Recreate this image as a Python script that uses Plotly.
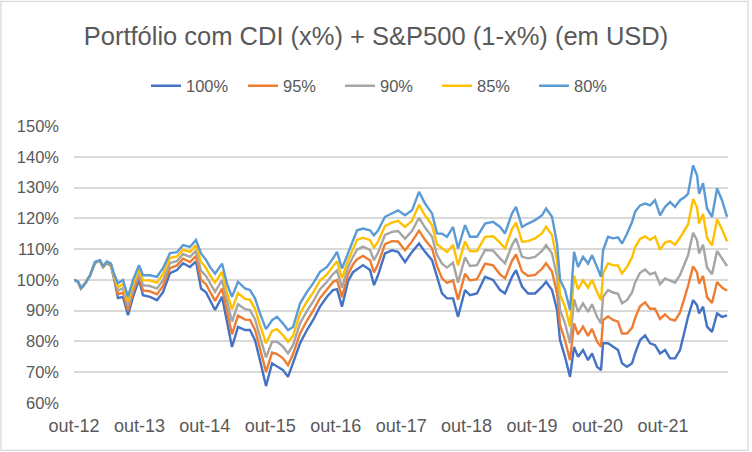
import plotly.graph_objects as go
import pandas as pd

# sample times (decimal years)
t_years = [
    2012.750, 2012.811, 2012.857, 2012.918, 2012.995, 2013.071, 2013.147, 2013.193, 2013.254, 2013.315,
    2013.361, 2013.422, 2013.499, 2013.575, 2013.652, 2013.743, 2013.804, 2013.911, 2014.018, 2014.110,
    2014.217, 2014.324, 2014.416, 2014.523, 2014.614, 2014.691, 2014.767, 2014.828, 2014.905, 2015.012,
    2015.088, 2015.164, 2015.256, 2015.363, 2015.439, 2015.516, 2015.592, 2015.684, 2015.776, 2015.852,
    2015.944, 2016.020, 2016.097, 2016.204, 2016.310, 2016.402, 2016.509,
    2016.616, 2016.708, 2016.769, 2016.845, 2016.937, 2017.013, 2017.075, 2017.166, 2017.273, 2017.334,
    2017.395, 2017.502, 2017.609, 2017.701, 2017.808, 2017.915, 2018.022, 2018.114, 2018.221, 2018.297,
    2018.373, 2018.450, 2018.542, 2018.618, 2018.725, 2018.801, 2018.908, 2019.031, 2019.153, 2019.260,
    2019.336, 2019.443, 2019.504, 2019.596, 2019.688, 2019.795, 2019.902, 2019.963, 2020.054, 2020.131,
    2020.177, 2020.253, 2020.329, 2020.391, 2020.452, 2020.528, 2020.605, 2020.666, 2020.742, 2020.803,
    2020.834, 2020.910, 2020.987, 2021.063, 2021.124, 2021.200, 2021.277, 2021.323, 2021.399, 2021.476,
    2021.552, 2021.628, 2021.705, 2021.781, 2021.858, 2021.934, 2022.010, 2022.087, 2022.133, 2022.209,
    2022.270, 2022.301, 2022.362, 2022.423, 2022.499, 2022.576, 2022.652, 2022.729,
]

s100 = [
    100, 99.3, 97.2, 98.7, 101.4, 105.6, 106.1, 104.1, 105.4, 104.6,
    100.5, 94.1, 94.5, 88.5, 94.5, 100, 95, 94.5, 93.4, 96,
    102.2, 103.2, 105.4, 104.2, 106, 97.2, 96, 93.4, 90.2, 94.5,
    86.9, 78.2, 84.7, 83.7, 83.7, 80.4, 73.9, 65.5, 72.9, 71.8,
    70.7, 68.5, 72.9, 79.4, 83.7, 86.9, 91.3,
    94.5, 96.7, 97, 91.3, 99.5, 102.5, 103.5, 104.8, 103.2, 98.3,
    101.5, 108.6, 109.6, 109.1, 105.8, 109.1, 111.8, 109.1, 106.4, 101,
    95.6, 94, 94, 88, 96.7, 95, 95.6, 101, 100, 96.7,
    95.6, 101, 103.2, 97.8, 95.6, 95.6, 97.8, 99.4, 96.7, 90.2,
    80.4, 75, 68.5, 78.2, 75, 77.2, 73.9, 76.1, 71.8, 70.7,
    79.4, 79.4, 78.2, 77.2, 72.9, 71.8, 72.9, 76.1, 80.4, 82,
    79.4, 78.8, 76.1, 77.2, 74.5, 74.5, 77.2, 83.7, 88, 93.4,
    91.8, 89.1, 91.3, 84.8, 83.1, 89.1, 88, 88.5,
]

s95 = [
    100, 99.3, 97.2, 98.7, 101.4, 105.6, 106.2, 104.2, 105.5, 104.8,
    100.9, 95.3, 95.9, 90, 95.9, 101.2, 96.6, 96.3, 95.3, 98,
    103.8, 104.7, 106.9, 105.8, 107.8, 100, 98.6, 96.1, 93.2, 97.2,
    89.9, 82.3, 88.4, 87.1, 87, 83.8, 77.7, 70.1, 76.4, 75.9,
    74.5, 72.3, 75.9, 82.6, 86.8, 89.9, 94.1,
    96.9, 99.3, 100, 94.4, 101.8, 105, 106.7, 107.8, 106.4, 102.4,
    105.1, 111.6, 112.6, 112.5, 109.6, 112.5, 116, 113, 110.2, 104.5,
    100.5, 99, 99.8, 93.6, 102, 99.8, 100.2, 105.3, 104.7, 101.8,
    100.5, 106.2, 108.3, 102.7, 101.3, 101.6, 103.6, 105.4, 102.7, 95.6,
    85.3, 80.4, 73.9, 85.9, 82.3, 84.8, 81.8, 84.1, 79.9, 78.3,
    87, 88.1, 87, 86.4, 82.6, 82.6, 84.4, 87.6, 91.4, 92.7,
    90.6, 90.6, 87.3, 88.8, 87.2, 86.8, 89.4, 94.5, 98, 104.4,
    102.4, 98.8, 101.3, 94.4, 92.5, 99.3, 97.5, 96.5,
]

s90 = [
    100, 99.4, 97.2, 98.8, 101.4, 105.7, 106.2, 104.3, 105.7, 105,
    101.2, 96.5, 97.3, 91.5, 97.3, 102.4, 98.3, 98, 97.2, 99.9,
    105.5, 106.1, 108.4, 107.5, 109.5, 102.9, 101.3, 98.8, 96.1, 99.9,
    92.9, 86.4, 92.1, 90.5, 90.2, 87.2, 81.5, 74.8, 79.9, 79.9,
    78.3, 76.1, 78.8, 85.9, 89.9, 92.9, 97,
    99.4, 101.9, 103.1, 97.5, 104.1, 107.5, 109.8, 110.8, 109.7, 106.4,
    108.8, 114.6, 115.6, 115.9, 113.4, 115.9, 120.2, 117, 114, 108.1,
    105.3, 104, 105.6, 99.1, 107.3, 104.5, 104.8, 109.7, 109.5, 107,
    105.4, 111.3, 113.5, 107.5, 107, 107.5, 109.4, 111.3, 108.6, 101,
    90.2, 85.9, 79.4, 93.7, 89.6, 92.4, 89.6, 92.1, 88, 85.9,
    94.5, 96.7, 95.9, 95.5, 92.4, 93.4, 95.9, 99.1, 102.3, 103.4,
    101.8, 102.4, 98.6, 100.5, 99.9, 99.1, 101.6, 105.4, 108, 115.3,
    112.9, 108.6, 111.4, 104, 101.8, 109.4, 107, 104.5,
]

s85 = [
    100, 99.5, 97.3, 98.8, 101.5, 105.8, 106.3, 104.4, 105.9, 105.1,
    101.6, 97.7, 98.6, 93, 98.6, 103.6, 99.9, 99.8, 99.1, 101.9,
    107.1, 107.6, 109.8, 109.1, 111.3, 105.8, 103.9, 101.5, 99.1, 102.6,
    95.8, 90.4, 95.7, 93.8, 93.5, 90.6, 85.3, 79.4, 83.4, 84,
    82, 79.9, 81.8, 89.1, 93, 95.8, 99.8,
    101.8, 104.4, 106.1, 100.6, 106.3, 110, 113, 113.7, 112.9, 110.5,
    112.4, 117.5, 118.6, 119.2, 117.2, 119.2, 124.4, 120.9, 117.8, 111.6,
    110.2, 109, 111.4, 104.7, 112.5, 109.3, 109.4, 114, 114.2, 112.1,
    110.2, 116.5, 118.6, 112.4, 112.6, 113.5, 115.2, 117.3, 114.6, 106.4,
    95.1, 91.3, 84.8, 101.4, 96.9, 99.9, 97.5, 100, 96.1, 93.4,
    102.1, 105.4, 104.7, 104.7, 102.1, 104.2, 107.3, 110.6, 113.3, 114.1,
    113, 114.1, 109.8, 112.1, 112.6, 111.4, 113.7, 116.2, 118, 126.3,
    123.5, 118.3, 121.4, 113.6, 111.2, 119.6, 116.4, 112.5,
]

s80 = [
    100, 99.5, 97.3, 98.8, 101.5, 105.8, 106.4, 104.5, 106, 105.3,
    102, 98.9, 100, 94.5, 100, 104.8, 101.5, 101.5, 101, 103.8,
    108.7, 109, 111.3, 110.7, 113, 108.6, 106.5, 104.2, 102, 105.3,
    98.8, 94.5, 99.4, 97.2, 96.7, 94, 89.1, 84, 86.9, 88,
    85.8, 83.7, 84.7, 92.3, 96.1, 98.8, 102.6,
    104.2, 107, 109.1, 103.7, 108.6, 112.5, 116.1, 116.7, 116.1, 114.5,
    116, 120.5, 121.6, 122.6, 121, 122.6, 128.6, 124.8, 121.6, 115.1,
    115, 114, 117.2, 110.2, 117.8, 114, 114, 118.3, 118.9, 117.2,
    115.1, 121.6, 123.7, 117.2, 118.3, 119.4, 121, 123.2, 120.5, 111.8,
    100, 96.7, 90.2, 109.1, 104.2, 107.5, 105.3, 108, 104.2, 101,
    109.6, 114, 113.5, 113.8, 111.8, 115, 118.8, 122.1, 124.2, 124.8,
    124.2, 125.9, 121, 123.7, 125.3, 123.7, 125.9, 127, 128, 137.2,
    134, 128, 131.4, 123.2, 120.5, 129.7, 125.9, 120.5,
]

series_names = ["100%", "95%", "90%", "85%", "80%"]
series_values = [s100, s95, s90, s85, s80]
colors = ["#4472C4", "#ED7D31", "#A5A5A5", "#FFC000", "#5B9BD5"]

tick_dates = ["2012-10-01", "2013-10-01", "2014-10-01", "2015-10-01", "2016-10-01",
              "2017-10-01", "2018-10-01", "2019-10-01", "2020-10-01", "2021-10-01"]
tick_labels = ["out-12", "out-13", "out-14", "out-15", "out-16",
               "out-17", "out-18", "out-19", "out-20", "out-21"]

title_text = "Portfólio com CDI (x%) + S&P500 (1-x%) (em USD)"

base = pd.Timestamp("2012-10-01")
dates = [base + pd.to_timedelta((t - 2012.75) * 365.25, unit="D") for t in t_years]

FONT = "Liberation Sans, Arial, sans-serif"
TXT = "#595959"

fig = go.Figure()
for name, vals, col in zip(series_names, series_values, colors):
    fig.add_trace(go.Scatter(x=dates, y=vals, mode="lines", name=name,
                             line=dict(color=col, width=2.4)))

W, H = 752, 452
L, R, T, B = 74, 24, 125.7, 49.3
pw, ph = W - L - R, H - T - B

fig.update_layout(
    width=W, height=H,
    margin=dict(l=L, r=R, t=T, b=B, pad=0, autoexpand=False),
    paper_bgcolor="white", plot_bgcolor="white",
    font=dict(family=FONT, color=TXT, size=16),
    title=dict(text=title_text, x=0.5, xref="container", xanchor="center",
               y=1 - 36 / H, yref="container", yanchor="middle",
               font=dict(family=FONT, size=25.5, color=TXT)),
    legend=dict(orientation="h", x=146 / W, xref="container", xanchor="left",
                y=1 - 86 / H, yref="container", yanchor="middle",
                entrywidth=52, entrywidthmode="pixels",
                font=dict(family=FONT, size=16.5, color=TXT),
                bgcolor="rgba(0,0,0,0)"),
    showlegend=True,
    shapes=[dict(type="rect", xref="paper", yref="paper",
                 x0=(1 - L) / pw, x1=(748 - L) / pw,
                 y0=(H - B - 450) / ph, y1=(H - B - 1) / ph,
                 line=dict(color="#D9D9D9", width=1.3), layer="below")],
)

fig.update_xaxes(type="date", range=["2012-10-01", "2022-09-29"],
                 tickvals=tick_dates, ticktext=tick_labels,
                 showgrid=False, zeroline=False, showline=False, ticks="",
                 ticklabelstandoff=10,
                 tickfont=dict(family=FONT, size=18, color=TXT))
fig.update_yaxes(range=[60, 150], dtick=10, tick0=60, ticksuffix="%",
                 showgrid=True, gridcolor="#D9D9D9", gridwidth=1.6,
                 zeroline=False, showline=False, ticks="",
                 ticklabelstandoff=14,
                 tickfont=dict(family=FONT, size=16.5, color=TXT))

fig.write_html("out.html", config={"displayModeBar": False},
               post_script="document.body.style.margin='0';")
